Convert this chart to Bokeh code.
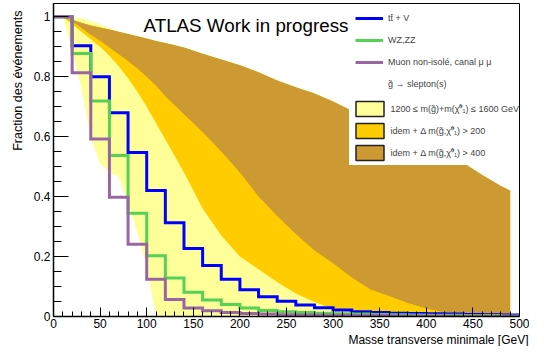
import math
from bokeh.plotting import figure
from bokeh.models import Range1d, FixedTicker, Label, Legend, LegendItem, Title
from bokeh.embed import file_html
from bokeh.resources import INLINE

# ---- histogram data (bins of 20 GeV) ----
edges = list(range(0, 501, 20))
ttv = [1.0, 0.903, 0.80, 0.68, 0.547, 0.42, 0.313, 0.227, 0.170, 0.124, 0.089, 0.066, 0.051,
       0.038, 0.029, 0.022, 0.016, 0.013, 0.011, 0.010, 0.009, 0.008, 0.007, 0.006, 0.005]
wzzz = [1.0, 0.877, 0.719, 0.537, 0.344, 0.203, 0.128, 0.081, 0.055, 0.040, 0.028, 0.020, 0.016,
        0.013, 0.011, 0.009, 0.008, 0.007, 0.006, 0.005, 0.004, 0.004, 0.003, 0.003, 0.002]
muon = [1.0, 0.813, 0.592, 0.398, 0.241, 0.124, 0.057, 0.028, 0.019, 0.013, 0.010, 0.008, 0.006,
        0.005, 0.004, 0.004, 0.003, 0.003, 0.002, 0.002, 0.002, 0.001, 0.001, 0.001, 0.001]

# ---- signal bands ----
band_x = [0, 10, 20, 30, 40, 50, 60, 70, 80, 90, 100, 110, 120, 140, 160, 180, 200, 220, 240,
          260, 280, 300, 320, 340, 360, 380, 400, 420, 440, 460, 480, 490]
band_top = [1.0, 1.0, 0.99, 0.98, 0.971, 0.964, 0.957, 0.95, 0.942, 0.935, 0.927, 0.919, 0.912,
            0.897, 0.876, 0.857, 0.838, 0.815, 0.787, 0.765, 0.744, 0.717, 0.686, 0.658, 0.63,
            0.601, 0.573, 0.544, 0.512, 0.472, 0.435, 0.42]
yellow_top = [1.0, 1.0, 1.0, 0.995, 0.985, 0.975, 0.962, 0.95, 0.942, 0.935, 0.927, 0.919, 0.912,
              0.897, 0.876, 0.857, 0.838, 0.815, 0.787, 0.765, 0.744, 0.717, 0.686, 0.658, 0.63,
              0.601, 0.573, 0.544, 0.512, 0.472, 0.435, 0.42]
yellow_low = [1.0, 1.0, 0.89, 0.76, 0.595, 0.51, 0.48, 0.465, 0.38, 0.28, 0.165, 0.005, 0.0,
              0.0, 0.0, 0.0, 0.0, 0.0, 0.0, 0.0, 0.0, 0.0, 0.0, 0.0, 0.0, 0.0, 0.0, 0.0, 0.0,
              0.0, 0.0, 0.0]
orange_low = [1.0, 1.0, 0.975, 0.95, 0.925, 0.90, 0.87, 0.835, 0.795, 0.75, 0.70, 0.645, 0.59,
              0.48, 0.36, 0.27, 0.20, 0.158, 0.115, 0.077, 0.048, 0.025, 0.015, 0.007, 0.002,
              0.0, 0.0, 0.0, 0.0, 0.0, 0.0, 0.0]
brown_low = [1.0, 1.0, 0.985, 0.962, 0.94, 0.92, 0.897, 0.875, 0.852, 0.827, 0.80, 0.77, 0.735,
             0.675, 0.615, 0.55, 0.48, 0.40, 0.335, 0.275, 0.22, 0.178, 0.13, 0.09, 0.068,
             0.045, 0.027, 0.013, 0.005, 0.0, 0.0, 0.0]

x_ticks = list(range(0, 501, 50))
x_minor = list(range(0, 501, 10))
y_ticks = [0, 0.2, 0.4, 0.6, 0.8, 1]
y_tick_labels = ["0", "0.2", "0.4", "0.6", "0.8", "1"]
y_minor = [round(i * 0.05, 2) for i in range(0, 21)]

FONT = "Liberation Sans"
C_YELLOW, C_ORANGE, C_BROWN = "#ffff99", "#ffcc00", "#cc9933"
C_BLUE, C_GREEN, C_PURPLE = "#0000ff", "#55d155", "#9966a3"
NAN = float("nan")

p = figure(width=529, height=346, output_backend="svg", toolbar_location=None,
           x_range=Range1d(0, 500), y_range=Range1d(0, 1.044),
           min_border_left=53, min_border_right=10, min_border_top=3, min_border_bottom=30)
p.background_fill_color = "white"
p.border_fill_color = "white"
p.grid.visible = False
p.outline_line_color = "black"
p.outline_line_width = 1

# bands
p.varea(x=band_x, y1=yellow_low, y2=yellow_top, fill_color=C_YELLOW)
p.varea(x=band_x, y1=orange_low, y2=band_top, fill_color=C_ORANGE)
p.varea(x=band_x, y1=brown_low, y2=band_top, fill_color=C_BROWN)

# histograms
r_ttv = p.step(x=edges, y=ttv + [ttv[-1]], mode="after", line_color=C_BLUE, line_width=3,
               line_join="miter")
r_wz = p.step(x=edges, y=wzzz + [wzzz[-1]], mode="after", line_color=C_GREEN, line_width=3,
              line_join="miter")
r_mu = p.step(x=edges, y=muon + [muon[-1]], mode="after", line_color=C_PURPLE, line_width=3,
              line_join="miter")

# legend-only renderers (not drawn in the plot area)
r_none = p.line(x=[], y=[], line_alpha=0)
d_y = p.quad(left=[NAN], right=[NAN], top=[NAN], bottom=[NAN], fill_color=C_YELLOW,
             line_color="#222222", line_width=1.5)
d_o = p.quad(left=[NAN], right=[NAN], top=[NAN], bottom=[NAN], fill_color=C_ORANGE,
             line_color="#222222", line_width=1.5)
d_b = p.quad(left=[NAN], right=[NAN], top=[NAN], bottom=[NAN], fill_color=C_BROWN,
             line_color="#222222", line_width=1.5)

# axes
for ax in (p.xaxis[0], p.yaxis[0]):
    ax.axis_line_width = 1.5
    ax.axis_line_color = "black"
    ax.major_tick_line_color = "black"
    ax.minor_tick_line_color = "black"
    ax.major_tick_out = 0
    ax.minor_tick_out = 0
    ax.major_label_text_font = FONT
    ax.major_label_text_font_size = "12px"
    ax.major_label_text_color = "black"

p.xaxis.ticker = FixedTicker(ticks=x_ticks, minor_ticks=x_minor)
p.xaxis.major_tick_in = 9
p.xaxis.minor_tick_in = 5
p.xaxis.major_label_standoff = 2

p.yaxis.ticker = FixedTicker(ticks=y_ticks, minor_ticks=y_minor)
p.yaxis.major_tick_in = 15
p.yaxis.minor_tick_in = 8
p.yaxis.major_label_standoff = 3
p.yaxis.major_label_overrides = dict(zip(y_ticks, y_tick_labels))

# axis titles
p.add_layout(Title(text="Fraction des événements", align="right", offset=7, standoff=12,
                   text_font=FONT, text_font_size="12.5px", text_font_style="normal",
                   text_color="black"), "left")
p.add_layout(Title(text="Masse transverse minimale [GeV]", align="right", offset=-9, standoff=0,
                   text_font=FONT, text_font_size="12px", text_font_style="normal",
                   text_color="black"), "below")

# header text
p.add_layout(Label(x=96.6, y=0.9717, text="ATLAS Work in progress",
                   text_align="left", text_baseline="middle", text_font=FONT,
                   text_font_size="18.8px", text_color="black"))

leg_lines = Legend(items=[
    LegendItem(label="tt\u0304 + V", renderers=[r_ttv]),
    LegendItem(label="WZ,ZZ", renderers=[r_wz]),
    LegendItem(label="Muon non-isolé, canal \u03bc \u03bc", renderers=[r_mu]),
    LegendItem(label="g\u0303 \u2192 slepton(s)", renderers=[r_none]),
], location=(299, 220.7), glyph_width=28, glyph_height=16, label_height=16, spacing=6,
   padding=3, margin=0, label_standoff=5, label_text_font=FONT, label_text_font_size="9px",
   background_fill_color="white", background_fill_alpha=1, border_line_alpha=0)

leg_areas = Legend(items=[
    LegendItem(label="1200 \u2264 m(g\u0303)+m(\u03c7\u0303\u2070\u2081) \u2264 1600 GeV", renderers=[d_y]),
    LegendItem(label="idem + \u0394 m(g\u0303,\u03c7\u0303\u2070\u2081) > 200", renderers=[d_o]),
    LegendItem(label="idem + \u0394 m(g\u0303,\u03c7\u0303\u2070\u2081) > 400", renderers=[d_b]),
], location=(295.5, 151.5), glyph_width=35, glyph_height=19, label_height=19, spacing=3,
   padding=3, margin=0, label_standoff=4, label_text_font=FONT, label_text_font_size="9px",
   background_fill_color="white", background_fill_alpha=1, border_line_alpha=0)

p.add_layout(leg_lines)
p.add_layout(leg_areas)

open("out.html", "w").write(file_html(p, INLINE))
